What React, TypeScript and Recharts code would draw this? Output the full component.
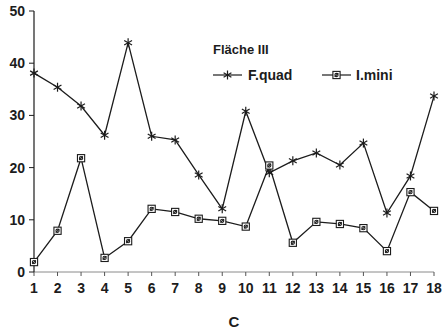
import { LineChart, Line, XAxis, YAxis } from "recharts";

// Messpunkte 1..18, Fläche III
const punkte = [1, 2, 3, 4, 5, 6, 7, 8, 9, 10, 11, 12, 13, 14, 15, 16, 17, 18];
const fQuad = [38.1, 35.4, 31.8, 26.2, 43.9, 26.0, 25.3, 18.6, 12.1, 30.8, 19.0, 21.3, 22.8, 20.5, 24.7, 11.3, 18.4, 33.7];
const iMini = [1.9, 7.9, 21.8, 2.7, 5.9, 12.1, 11.5, 10.2, 9.8, 8.7, 20.4, 5.6, 9.6, 9.2, 8.4, 4.0, 15.3, 11.7];
const yTicks = [0, 10, 20, 30, 40, 50];

const data = punkte.map((p, i) => ({ p, fQuad: fQuad[i], iMini: iMini[i] }));

const INK = "#1c1c1c";
const FONT = "'Liberation Sans', Arial, sans-serif";

function Star({ cx, cy }: any) {
  if (cx == null || cy == null) return null;
  const r = 4.5;
  const dx = r * Math.cos(Math.PI / 6);
  const dy = r * Math.sin(Math.PI / 6);
  return (
    <g stroke={INK} strokeWidth={1.2}>
      <line x1={cx} y1={cy - r} x2={cx} y2={cy + r} />
      <line x1={cx - dx} y1={cy - dy} x2={cx + dx} y2={cy + dy} />
      <line x1={cx - dx} y1={cy + dy} x2={cx + dx} y2={cy - dy} />
    </g>
  );
}

function Box({ cx, cy }: any) {
  if (cx == null || cy == null) return null;
  const s = 3.6;
  return (
    <g stroke={INK} strokeWidth={1.1}>
      <rect x={cx - s} y={cy - s} width={s * 2} height={s * 2} fill="#fff" />
      <circle cx={cx} cy={cy} r={1.6} fill="none" />
      <line x1={cx - 1.8} y1={cy + 1.8} x2={cx + 1.8} y2={cy - 1.8} />
    </g>
  );
}

// Legende oben rechts, über dem Diagramm
function LegendBox() {
  return (
    <svg width={200} height={50} style={{ position: "absolute", left: 213, top: 42, overflow: "visible" }}>
      <text x={0} y={12} fontFamily={FONT} fontWeight={700} fontSize={13} fill={INK}>
        Fläche III
      </text>
      <line x1={0} y1={33} x2={29} y2={33} stroke={INK} strokeWidth={1.2} />
      <Star cx={14.5} cy={33} />
      <text x={35} y={38} fontFamily={FONT} fontWeight={700} fontSize={14} fill={INK}>
        F.quad
      </text>
      <line x1={109} y1={33} x2={138} y2={33} stroke={INK} strokeWidth={1.2} />
      <Box cx={123.5} cy={33} />
      <text x={143} y={38} fontFamily={FONT} fontWeight={700} fontSize={14} fill={INK}>
        I.mini
      </text>
    </svg>
  );
}

export default function App() {
  const tickStyle = { fontFamily: FONT, fontWeight: 700, fontSize: 14, fill: INK };
  return (
    <div style={{ position: "fixed", left: 0, top: 0, width: 442, height: 333, background: "#fff" }}>
      <LineChart width={442} height={333} data={data} margin={{ top: 11, right: 8, bottom: 0, left: 0 }}>
        <XAxis
          dataKey="p"
          type="number"
          domain={[1, 18]}
          ticks={punkte}
          interval={0}
          height={61}
          tickSize={4}
          tickMargin={7}
          axisLine={{ stroke: "#8a8a8a" }}
          tickLine={{ stroke: "#555" }}
          tick={tickStyle}
          label={{ value: "C", position: "insideBottom", offset: 6, style: { ...tickStyle, fontSize: 15 } }}
        />
        <YAxis
          type="number"
          domain={[0, 50]}
          ticks={yTicks}
          width={34}
          tickSize={5}
          tickMargin={4}
          axisLine={{ stroke: INK, strokeWidth: 1.2 }}
          tickLine={{ stroke: INK }}
          tick={tickStyle}
        />
        <Line
          dataKey="fQuad"
          name="F.quad"
          stroke={INK}
          strokeWidth={1.3}
          dot={<Star />}
          activeDot={false}
          isAnimationActive={false}
        />
        <Line
          dataKey="iMini"
          name="I.mini"
          stroke={INK}
          strokeWidth={1.3}
          dot={<Box />}
          activeDot={false}
          isAnimationActive={false}
        />
      </LineChart>
      <LegendBox />
    </div>
  );
}
